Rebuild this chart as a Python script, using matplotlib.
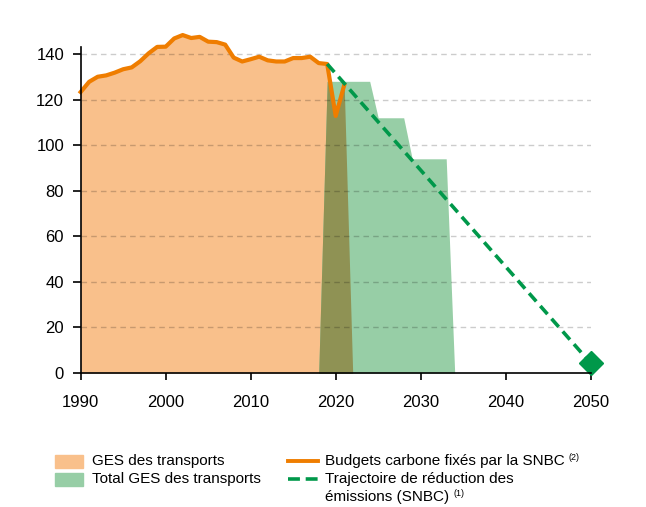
import matplotlib.pyplot as plt
import numpy as np
from matplotlib.patches import Rectangle
from matplotlib.lines import Line2D

plt.rcParams['font.family'] = ['Liberation Sans', 'DejaVu Sans']

# émissions de GES des transports
years = list(range(1990, 2022))
ges = [123.3, 127.8, 130.0, 130.6, 131.8, 133.3, 134.1, 136.8, 140.3, 143.1,
       143.2, 146.8, 148.3, 147.0, 147.5, 145.4, 145.2, 144.1, 138.4, 136.7,
       137.7, 138.8, 137.2, 136.7, 136.7, 138.2, 138.2, 138.8, 136.0, 135.6,
       112.8, 126.3]
ges_end_year = 2022

# budgets carbone (aire verte)
budget_years = [2018, 2019, 2024, 2025, 2028, 2029, 2033, 2034]
budget_vals = [0, 128, 128, 112, 112, 94, 94, 0]

# trajectoire SNBC
snbc_years = [2019, 2050]
snbc_vals = [135.6, 4.3]

xticks = [1990, 2000, 2010, 2020, 2030, 2040, 2050]
yticks = [0, 20, 40, 60, 80, 100, 120, 140]

c_orange_fill = '#f9c08b'
c_orange = '#ef7d00'
c_green_fill = '#97cea6'
c_olive = '#8f9254'
c_green = '#00984a'

fig = plt.figure(figsize=(6.46, 5.07), dpi=100)
ax = fig.add_axes([0.1249, 0.2643, 0.7895, 0.6742])

fill_x = np.append(years, ges_end_year)
fill_y = np.append(ges, 0)
ax.fill_between(fill_x, 0, fill_y, color=c_orange_fill, lw=0, zorder=1)
ax.fill_between(budget_years, 0, budget_vals, color=c_green_fill, lw=0, zorder=1)

# zone de recouvrement
grid = np.linspace(budget_years[0], ges_end_year, 800)
overlap = np.minimum(np.interp(grid, fill_x, fill_y),
                     np.interp(grid, budget_years, budget_vals))
ax.fill_between(grid, 0, overlap, color=c_olive, lw=0, zorder=1.5)

for v in yticks[1:]:
    ax.axhline(v, color='black', alpha=0.2, lw=1, ls=(0, (4, 3)), zorder=2)

ax.plot(years, ges, color=c_orange, lw=3, solid_joinstyle='round',
        zorder=3, clip_on=False)
ax.plot(snbc_years, snbc_vals, color=c_green, lw=2.6, ls=(0, (3, 1.7)),
        zorder=4, clip_on=False)
ax.plot(snbc_years[-1], snbc_vals[-1], marker='D', ms=12, color=c_green,
        mec=c_green, zorder=5, clip_on=False)

ax.set_xlim(1990, 2050)
ax.set_ylim(0, 150)
ax.set_xticks(xticks)
ax.set_yticks(yticks)
ax.spines['top'].set_visible(False)
ax.spines['right'].set_visible(False)
ax.spines['left'].set_bounds(0, 143)
for s in ['left', 'bottom']:
    ax.spines[s].set_linewidth(1.2)
    ax.spines[s].set_zorder(6)
ax.tick_params(axis='x', direction='out', length=5, width=1.2, pad=11,
               labelsize=12)
ax.tick_params(axis='y', direction='out', length=6, width=1.2, pad=6,
               labelsize=12)

# légende
W, H = 646, 507
def fx(px):
    return px / W
def fy(py):
    return 1 - py / H

fig.add_artist(Rectangle((fx(55), fy(468)), 28 / W, 13 / H,
                         color=c_orange_fill, transform=fig.transFigure))
fig.add_artist(Rectangle((fx(55), fy(486)), 28 / W, 13 / H,
                         color=c_green_fill, transform=fig.transFigure))
fig.add_artist(Line2D([fx(288), fx(318)], [fy(461), fy(461)], color=c_orange,
                      lw=2.8, transform=fig.transFigure))
fig.add_artist(Line2D([fx(288), fx(318)], [fy(479), fy(479)], color=c_green,
                      lw=2.6, ls=(0, (3.3, 1.6)), transform=fig.transFigure))

fs = 11
fig.text(fx(92), fy(461), 'GES des transports', fontsize=fs, va='center')
fig.text(fx(92), fy(479), 'Total GES des transports', fontsize=fs, va='center')
t2 = fig.text(fx(325), fy(461), 'Budgets carbone fixés par la SNBC',
              fontsize=fs, va='center')
fig.text(fx(325), fy(479), 'Trajectoire de réduction des', fontsize=fs,
         va='center')
t1 = fig.text(fx(325), fy(497), 'émissions (SNBC)', fontsize=fs, va='center')
for t, note in [(t2, '(2)'), (t1, '(1)')]:
    ax.annotate(note, xy=(1, 0.75), xycoords=t, xytext=(3, 0),
                textcoords='offset points', fontsize=6.5, va='center',
                annotation_clip=False)

fig.savefig('out.png', dpi=100)
